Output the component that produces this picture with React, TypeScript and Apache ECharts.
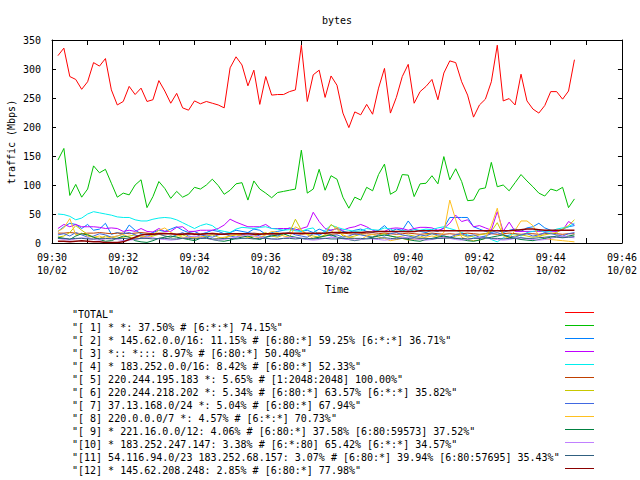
import React, { useEffect, useRef } from "react";
import * as echarts from "echarts";

// sample times: seconds after 09:30:00, one sample every 10 s
const SAMPLE_START = 10;
const SAMPLE_STEP = 10;

const xTickLabels = ["09:30", "09:32", "09:34", "09:36", "09:38", "09:40", "09:42", "09:44", "09:46"];
const xDateLabel = "10/02";
const yTicks = [0, 50, 100, 150, 200, 250, 300, 350];

const seriesNames = [
  "TOTAL",
  "[ 1] * *: 37.50% # [6:*:*] 74.15%",
  "[ 2] * 145.62.0.0/16: 11.15% # [6:80:*] 59.25% [6:*:*] 36.71%",
  "[ 3] *:: *::: 8.97% # [6:80:*] 50.40%",
  "[ 4] * 183.252.0.0/16: 8.42% # [6:80:*] 52.33%",
  "[ 5] 220.244.195.183 *: 5.65% # [1:2048:2048] 100.00%",
  "[ 6] 220.244.218.202 *: 5.34% # [6:80:*] 63.57% [6:*:*] 35.82%",
  "[ 7] 37.13.168.0/24 *: 5.04% # [6:80:*] 67.94%",
  "[ 8] 220.0.0.0/7 *: 4.57% # [6:*:*] 70.73%",
  "[ 9] * 221.16.0.0/12: 4.06% # [6:80:*] 37.58% [6:80:59573] 37.52%",
  "[10] * 183.252.247.147: 3.38% # [6:*:80] 65.42% [6:*:*] 34.57%",
  "[11] 54.116.94.0/23 183.252.68.157: 3.07% # [6:80:*] 39.94% [6:80:57695] 35.43%",
  "[12] * 145.62.208.248: 2.85% # [6:80:*] 77.98%",
];

const seriesColors = [
  "#ff0000", "#00c000", "#0080ff", "#c000ff", "#00eeee", "#c04000", "#c8c800",
  "#4169e1", "#ffc020", "#008040", "#c080ff", "#306080", "#8b0000",
];

const total = [
  323, 336, 287, 282, 265, 278, 311, 305, 318, 264,
  238, 244, 270, 256, 267, 244, 247, 280, 262, 241,
  258, 233, 229, 245, 240, 244, 241, 238, 233, 302,
  321, 307, 271, 298, 239, 287, 255, 256, 256, 261,
  264, 341, 244, 290, 298, 251, 288, 272, 224, 199,
  226, 221, 239, 222, 267, 301, 224, 251, 287, 308,
  241, 261, 270, 282, 247, 293, 314, 311, 278, 255,
  217, 238, 248, 278, 341, 245, 249, 238, 291, 245,
  231, 224, 237, 261, 261, 248, 262, 316,
];
const s1 = [
  143, 163, 82, 101, 79, 93, 133, 121, 127, 103,
  79, 86, 83, 100, 109, 61, 80, 106, 94, 77,
  89, 79, 84, 96, 93, 100, 110, 99, 84, 91,
  102, 104, 74, 107, 93, 86, 78, 87, 89, 91,
  93, 160, 86, 93, 127, 91, 116, 110, 79, 60,
  79, 74, 96, 90, 118, 136, 84, 90, 118, 117,
  80, 102, 103, 116, 102, 149, 109, 128, 106, 73,
  74, 93, 95, 139, 97, 100, 90, 104, 118, 107,
  97, 86, 81, 93, 90, 96, 61, 76,
];
const s2 = [
  20, 28, 34, 32, 25, 32, 22, 24, 34, 15,
  18, 15, 31, 22, 16, 14, 18, 22, 20, 24,
  28, 22, 18, 20, 15, 18, 22, 20, 16, 18,
  22, 20, 18, 24, 22, 15, 18, 20, 22, 26,
  24, 20, 22, 18, 24, 20, 22, 25, 20, 18,
  22, 24, 20, 18, 22, 30, 20, 24, 22, 38,
  24, 20, 18, 22, 20, 26, 44, 44, 44, 44,
  28, 24, 20, 18, 22, 18, 22, 24, 20, 26,
  28, 34, 26, 22, 20, 24, 28, 30,
];
const s3 = [
  25, 32, 28, 32, 28, 28, 28, 27, 25, 26,
  25, 20, 22, 20, 25, 20, 19, 25, 20, 20,
  27, 28, 20, 20, 22, 22, 22, 25, 31, 41,
  36, 32, 28, 28, 28, 32, 25, 25, 25, 25,
  22, 25, 28, 53, 37, 25, 22, 25, 22, 26,
  28, 32, 28, 22, 20, 20, 25, 26, 25, 22,
  25, 27, 27, 26, 22, 25, 34, 48, 37, 40,
  28, 30, 26, 22, 54, 20, 36, 20, 20, 20,
  20, 20, 20, 20, 20, 22, 37, 31,
];
const s4 = [
  50, 49, 46, 40, 43, 50, 54, 52, 50, 48,
  45, 44, 44, 40, 38, 38, 41, 43, 44, 43,
  40, 35, 30, 25, 30, 33, 30, 22, 20, 18,
  24, 27, 26, 25, 27, 28, 25, 24, 22, 23,
  21, 20, 24, 26, 12, 22, 31, 27, 24, 22,
  20, 21, 25, 23, 22, 26, 24, 19, 22, 20,
  23, 22, 24, 23, 26, 28, 25, 22, 18, 14,
  10, 8, 12, 6, 2, 9, 14, 16, 12, 18,
  20, 22, 19, 20, 24, 26, 28, 34,
];
const s5 = [
  17, 17, 18, 17, 16, 17, 17, 18, 17, 16,
  17, 17, 16, 17, 18, 17, 16, 17, 17, 16,
  15, 16, 17, 16, 15, 16, 17, 16, 15, 16,
  16, 15, 16, 17, 16, 15, 16, 15, 16, 17,
  16, 15, 16, 16, 17, 16, 15, 16, 17, 16,
  15, 16, 16, 15, 16, 17, 16, 15, 16, 17,
  16, 15, 16, 17, 16, 15, 16, 15, 16, 17,
  16, 15, 16, 16, 15, 16, 17, 16, 15, 16,
  16, 15, 16, 17, 16, 15, 16, 16,
];
const s6 = [
  10, 12, 18, 30, 22, 15, 10, 8, 12, 10,
  8, 10, 12, 14, 10, 8, 12, 15, 12, 10,
  12, 14, 10, 8, 10, 12, 14, 10, 8, 12,
  14, 12, 10, 12, 15, 18, 12, 10, 14, 18,
  41, 22, 15, 12, 10, 14, 32, 24, 12, 10,
  12, 15, 12, 10, 14, 16, 12, 10, 12, 14,
  12, 10, 14, 16, 12, 10, 8, 12, 14, 10,
  12, 14, 16, 20, 35, 14, 10, 12, 14, 12,
  10, 12, 14, 16, 18, 24, 30, 40,
];
const s7 = [
  14, 16, 12, 18, 14, 10, 12, 16, 14, 10,
  12, 16, 18, 14, 10, 12, 14, 16, 12, 10,
  14, 18, 12, 10, 14, 12, 10, 14, 16, 12,
  10, 14, 18, 16, 12, 10, 14, 12, 16, 18,
  14, 12, 10, 16, 14, 18, 12, 14, 10, 12,
  16, 14, 12, 10, 14, 12, 16, 18, 14, 12,
  10, 14, 12, 16, 14, 12, 10, 14, 16, 12,
  14, 10, 12, 16, 18, 14, 12, 10, 14, 16,
  12, 14, 18, 16, 14, 12, 16, 18,
];
const s8 = [
  20, 26, 42, 14, 17, 12, 10, 12, 8, 10,
  12, 15, 10, 8, 12, 10, 14, 22, 26, 18,
  14, 10, 8, 10, 12, 8, 6, 8, 10, 12,
  15, 12, 10, 8, 10, 14, 20, 18, 12, 10,
  28, 22, 14, 8, 10, 12, 18, 28, 14, 10,
  8, 6, 12, 15, 10, 8, 4, 6, 8, 5,
  6, 8, 10, 12, 10, 18, 74, 40, 10, 6,
  4, 5, 8, 30, 60, 12, 8, 22, 38, 38,
  30, 12, 8, 6, 5, 4, 3, 2,
];
const s9 = [
  10, 8, 6, 12, 16, 14, 10, 6, 3, 4,
  8, 12, 10, 4, 2, 1, 4, 8, 10, 12,
  10, 8, 6, 4, 8, 10, 6, 4, 3, 5,
  8, 10, 12, 8, 6, 10, 12, 14, 16, 12,
  10, 8, 6, 8, 10, 12, 14, 10, 8, 6,
  4, 6, 8, 10, 12, 14, 12, 10, 8, 6,
  4, 3, 6, 8, 10, 12, 10, 8, 6, 4,
  3, 5, 8, 10, 12, 14, 10, 8, 6, 5,
  4, 6, 8, 10, 12, 10, 12, 14,
];
const s10 = [
  8, 6, 5, 7, 9, 8, 6, 5, 7, 8,
  6, 4, 5, 6, 8, 10, 9, 7, 6, 5,
  6, 8, 10, 12, 10, 8, 6, 5, 6, 8,
  10, 12, 14, 12, 10, 8, 7, 6, 8, 10,
  9, 8, 6, 5, 6, 8, 10, 9, 7, 6,
  5, 6, 8, 7, 6, 5, 6, 8, 10, 9,
  7, 6, 5, 6, 8, 10, 8, 6, 5, 6,
  8, 10, 9, 7, 6, 5, 6, 8, 9, 7,
  6, 5, 6, 8, 10, 12, 10, 9,
];
const s11 = [
  8, 8, 7, 8, 8, 7, 7, 8, 8, 7,
  8, 8, 7, 7, 8, 8, 7, 8, 8, 7,
  7, 8, 8, 7, 8, 8, 7, 7, 8, 8,
  7, 8, 8, 7, 8, 8, 7, 7, 8, 8,
  7, 8, 8, 7, 8, 8, 7, 7, 8, 8,
  8, 8, 7, 8, 8, 9, 8, 7, 8, 8,
  9, 8, 8, 7, 8, 8, 9, 8, 8, 7,
  8, 8, 9, 8, 8, 7, 8, 8, 9, 8,
  8, 9, 10, 11, 10, 9, 10, 11,
];
const s12 = [
  3, 3, 2, 3, 4, 3, 2, 2, 1, 1,
  1, 2, 6, 10, 14, 15, 15, 16, 16, 16,
  15, 15, 16, 15, 15, 16, 16, 15, 15, 16,
  16, 16, 16, 15, 15, 16, 16, 16, 17, 17,
  17, 17, 17, 17, 17, 17, 18, 18, 18, 18,
  18, 18, 19, 19, 20, 20, 20, 20, 20, 20,
  20, 21, 21, 21, 21, 21, 21, 21, 21, 21,
  21, 21, 21, 21, 21, 21, 21, 22, 23, 24,
  24, 23, 22, 22, 22, 22, 22, 22,
];

const seriesValues = [total, s1, s2, s3, s4, s5, s6, s7, s8, s9, s10, s11, s12];

const FONT = "DejaVu Sans Mono";

export default function App() {
  const ref = useRef<HTMLDivElement>(null);

  useEffect(() => {
    if (!ref.current) return;
    const chart = echarts.init(ref.current, null, { renderer: "svg" });

    const gridLeft = 52;
    const gridRight = 622;
    const gridTop = 40;
    const gridBottom = 243;
    const centerX = (gridLeft + gridRight) / 2;

    const axisLineStyle = { color: "#000", width: 1 };
    const labelStyle = { fontFamily: FONT, fontSize: 10, color: "#000" };

    const legendGraphics: any[] = [];
    seriesNames.forEach((name, k) => {
      legendGraphics.push({
        type: "text",
        x: 72,
        y: 314 + 13 * k,
        style: {
          text: `"${name}"`,
          fontFamily: FONT,
          fontSize: 10,
          fill: "#000",
          textAlign: "left",
          textVerticalAlign: "middle",
        },
      });
      legendGraphics.push({
        type: "line",
        shape: { x1: 565, y1: 312.5 + 13 * k, x2: 594, y2: 312.5 + 13 * k },
        style: { stroke: seriesColors[k], lineWidth: 1 },
      });
    });

    const option: any = {
      animation: false,
      backgroundColor: "#fff",
      grid: {
        left: gridLeft,
        right: 640 - gridRight,
        top: gridTop,
        bottom: 480 - gridBottom,
        containLabel: false,
      },
      xAxis: [
        {
          type: "value",
          position: "bottom",
          min: 0,
          max: 960,
          interval: 60,
          axisLine: { show: true, onZero: false, lineStyle: axisLineStyle },
          axisTick: { show: true, inside: true, length: 5, lineStyle: axisLineStyle },
          splitLine: { show: false },
          axisLabel: {
            ...labelStyle,
            margin: 8,
            lineHeight: 13,
            showMinLabel: true,
            showMaxLabel: true,
            formatter: (v: number) =>
              v % 120 === 0 ? `${xTickLabels[v / 120]}\n${xDateLabel}` : "",
          },
        },
        {
          type: "value",
          position: "top",
          min: 0,
          max: 960,
          interval: 60,
          axisLine: { show: true, onZero: false, lineStyle: axisLineStyle },
          axisTick: { show: true, inside: true, length: 5, lineStyle: axisLineStyle },
          splitLine: { show: false },
          axisLabel: { show: false },
        },
      ],
      yAxis: [
        {
          type: "value",
          position: "left",
          min: yTicks[0],
          max: yTicks[yTicks.length - 1],
          interval: 50,
          axisLine: { show: true, onZero: false, lineStyle: axisLineStyle },
          axisTick: { show: true, inside: true, length: 4, lineStyle: axisLineStyle },
          splitLine: { show: false },
          axisLabel: { ...labelStyle, margin: 11 },
        },
        {
          type: "value",
          position: "right",
          min: yTicks[0],
          max: yTicks[yTicks.length - 1],
          interval: 50,
          axisLine: { show: true, onZero: false, lineStyle: axisLineStyle },
          axisTick: { show: true, inside: true, length: 4, lineStyle: axisLineStyle },
          splitLine: { show: false },
          axisLabel: { show: false },
        },
      ],
      series: seriesValues.map((vals, k) => ({
        name: seriesNames[k],
        type: "line",
        xAxisIndex: 0,
        yAxisIndex: 0,
        symbol: "none",
        showSymbol: false,
        silent: true,
        lineStyle: { color: seriesColors[k], width: k === 12 ? 1.5 : 1 },
        itemStyle: { color: seriesColors[k] },
        data: vals.map((v, i) => [SAMPLE_START + SAMPLE_STEP * i, v]),
      })),
      graphic: [
        {
          type: "text",
          x: centerX,
          y: 20,
          style: {
            text: "bytes",
            fontFamily: FONT,
            fontSize: 10,
            fill: "#000",
            textAlign: "center",
            textVerticalAlign: "middle",
          },
        },
        {
          type: "text",
          x: centerX,
          y: 289,
          style: {
            text: "Time",
            fontFamily: FONT,
            fontSize: 10,
            fill: "#000",
            textAlign: "center",
            textVerticalAlign: "middle",
          },
        },
        {
          type: "text",
          x: 11,
          y: 142,
          rotation: Math.PI / 2,
          style: {
            text: "traffic (Mbps)",
            fontFamily: FONT,
            fontSize: 10,
            fill: "#000",
            textAlign: "center",
            textVerticalAlign: "middle",
          },
        },
        ...legendGraphics,
      ],
    };

    chart.setOption(option);
    return () => chart.dispose();
  }, []);

  return (
    <div
      ref={ref}
      style={{ position: "fixed", left: 0, top: 0, width: 640, height: 480, background: "#fff" }}
    />
  );
}
